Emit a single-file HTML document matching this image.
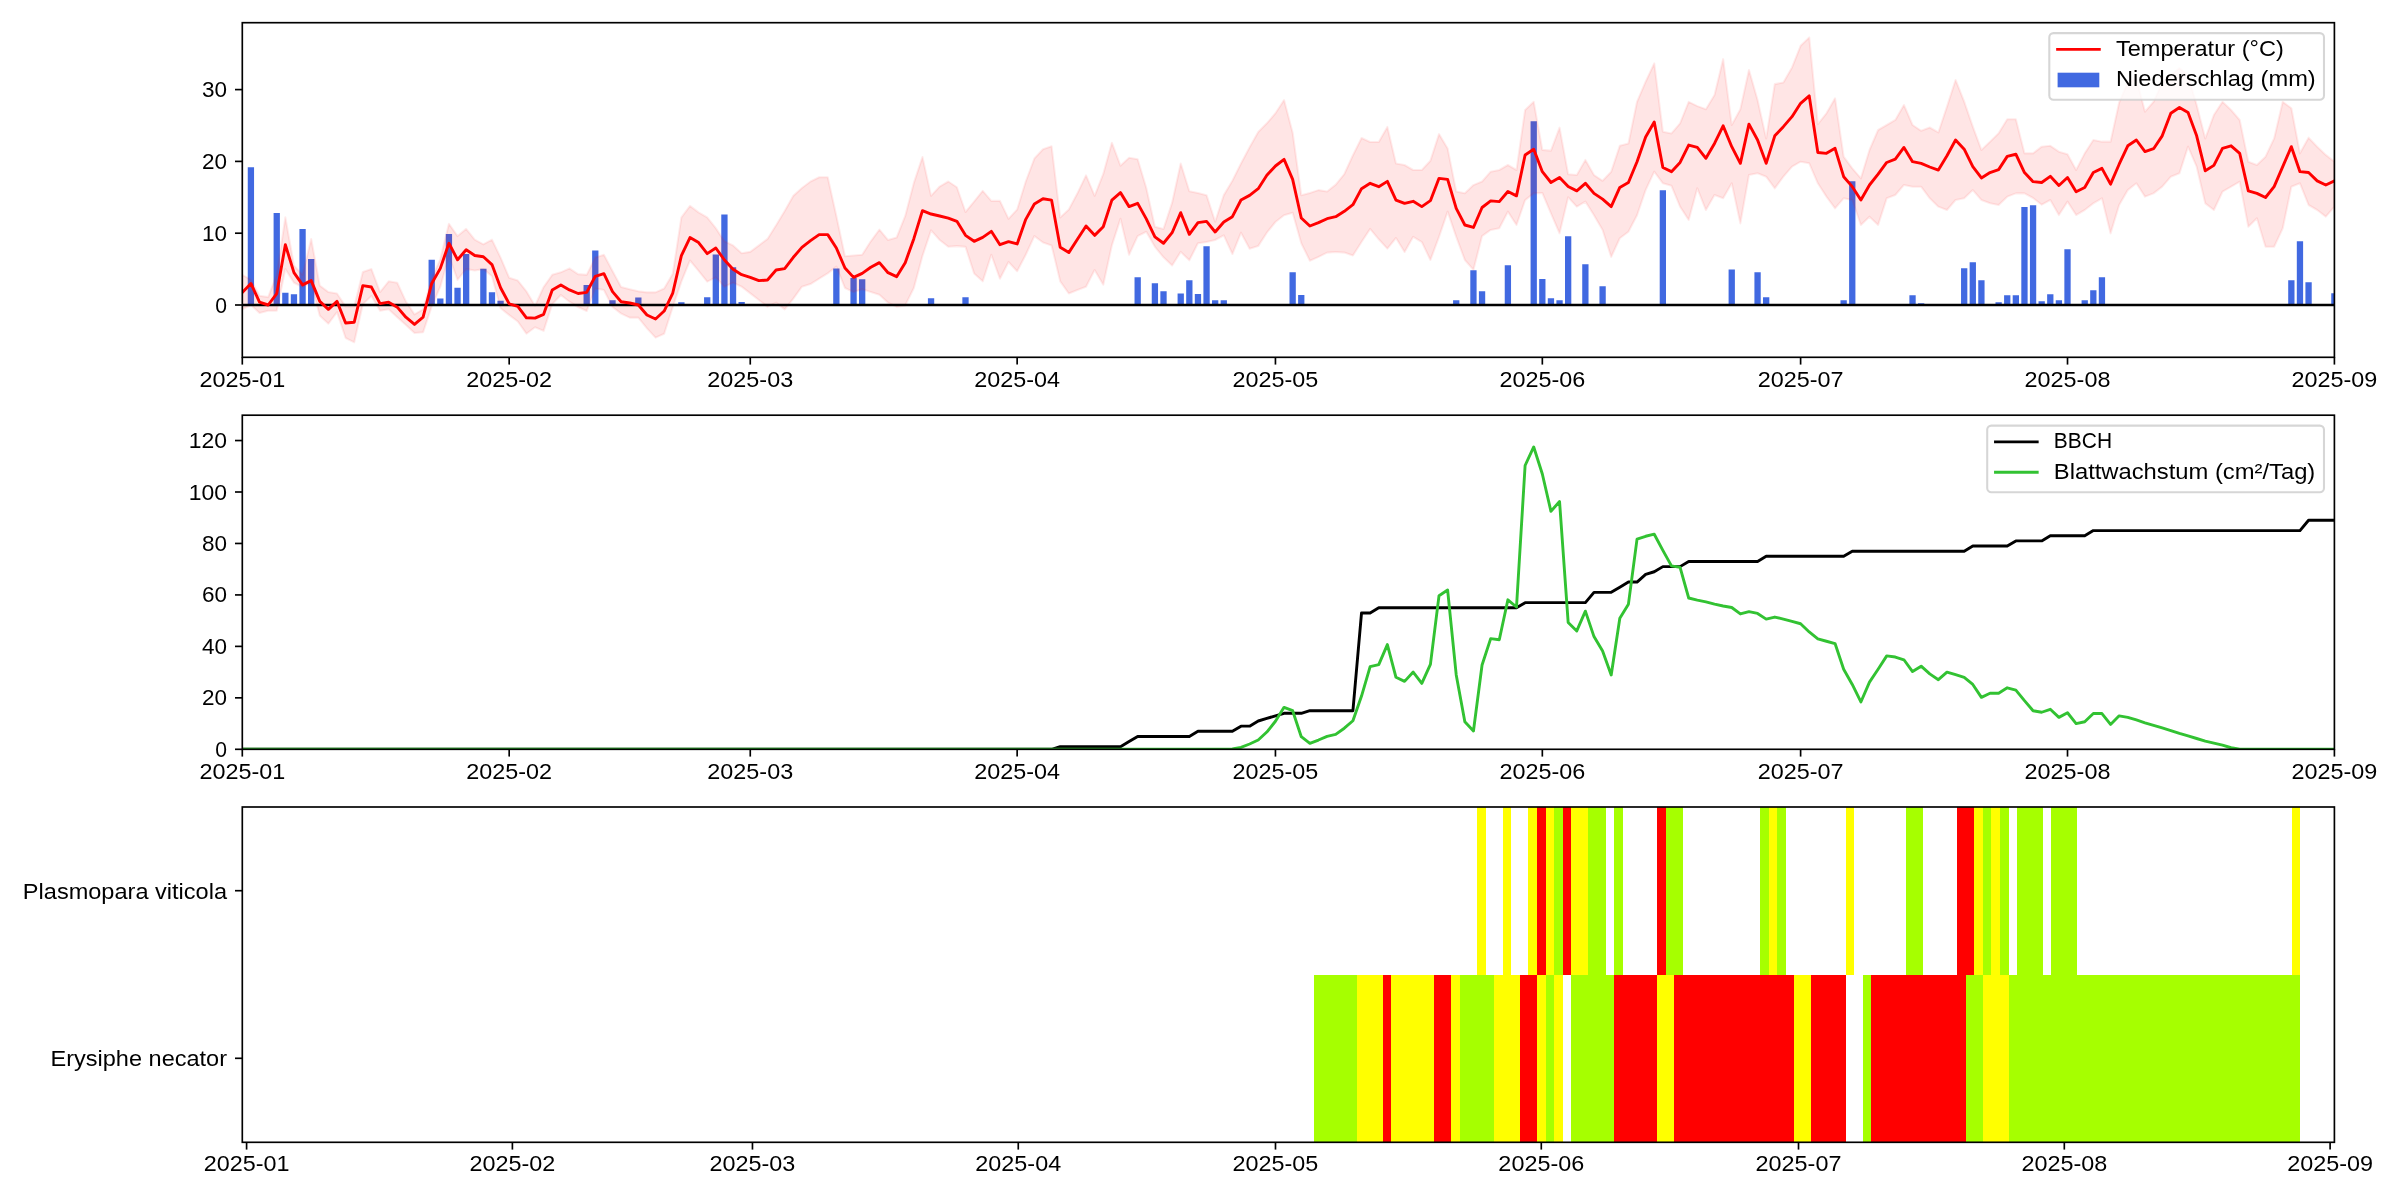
<!DOCTYPE html><html><head><meta charset="utf-8"><style>html,body{margin:0;padding:0;background:#fff;}svg{display:block;will-change:transform}text{font-family:"Liberation Sans", sans-serif;font-size:21.8px;fill:#000}</style></head><body>
<svg width="2400" height="1200" viewBox="0 0 2400 1200">
<rect x="0" y="0" width="2400" height="1200" fill="#fff"/>
<defs>
<clipPath id="c1"><rect x="242.3" y="22.7" width="2092.1" height="334.6"/></clipPath>
<clipPath id="c2"><rect x="242.3" y="415.2" width="2092.1" height="334.1"/></clipPath>
<clipPath id="c3"><rect x="242.3" y="807" width="2092.1" height="335.3"/></clipPath>
</defs>
<g clip-path="url(#c1)">
<path d="M247.76 305H254.06V167.14H247.76ZM273.59 305H279.89V213.1H273.59ZM282.2 305H288.5V292.79H282.2ZM290.81 305H297.11V294.23H290.81ZM299.42 305H305.72V228.89H299.42ZM308.03 305H314.33V259.05H308.03ZM428.56 305H434.86V259.77H428.56ZM437.17 305H443.47V298.54H437.17ZM445.78 305H452.08V233.92H445.78ZM454.39 305H460.69V287.77H454.39ZM463 305H469.3V254.02H463ZM480.22 305H486.52V268.74H480.22ZM488.82 305H495.12V292.22H488.82ZM497.43 305H503.73V300.84H497.43ZM583.53 305H589.83V284.9H583.53ZM592.14 305H598.44V250.43H592.14ZM609.36 305H615.66V300.33H609.36ZM635.19 305H641.49V297.39H635.19ZM678.23 305H684.53V302.34H678.23ZM704.06 305H710.36V297.35H704.06ZM712.67 305H718.97V254.38H712.67ZM721.28 305H727.58V214.53H721.28ZM729.89 305H736.19V267.31H729.89ZM738.5 305H744.8V301.98H738.5ZM833.2 305H839.5V268.38H833.2ZM850.42 305H856.72V278H850.42ZM859.03 305H865.33V279.15H859.03ZM927.91 305H934.21V298.25H927.91ZM962.35 305H968.65V297.32H962.35ZM1134.53 305H1140.83V277.32H1134.53ZM1151.75 305H1158.05V283.32H1151.75ZM1160.36 305H1166.66V291.29H1160.36ZM1177.58 305H1183.88V293.4H1177.58ZM1186.19 305H1192.49V280.23H1186.19ZM1194.8 305H1201.1V294.01H1194.8ZM1203.41 305H1209.71V246.27H1203.41ZM1212.02 305H1218.32V300.19H1212.02ZM1220.63 305H1226.93V300.19H1220.63ZM1289.5 305H1295.8V272.19H1289.5ZM1298.11 305H1304.41V295.02H1298.11ZM1453.08 305H1459.38V300.19H1453.08ZM1470.3 305H1476.6V270.18H1470.3ZM1478.91 305H1485.21V291.21H1478.91ZM1504.74 305H1511.04V265.29H1504.74ZM1530.57 305H1536.87V121.34H1530.57ZM1539.18 305H1545.48V279.01H1539.18ZM1547.79 305H1554.09V298.18H1547.79ZM1556.4 305H1562.7V300.19H1556.4ZM1565.01 305H1571.31V236.14H1565.01ZM1582.23 305H1588.53V264.22H1582.23ZM1599.45 305H1605.75V286.19H1599.45ZM1659.71 305H1666.01V190.34H1659.71ZM1728.59 305H1734.89V269.53H1728.59ZM1754.42 305H1760.72V272.19H1754.42ZM1763.03 305H1769.33V297.17H1763.03ZM1840.51 305H1846.81V300.19H1840.51ZM1849.12 305H1855.42V181.36H1849.12ZM1909.39 305H1915.69V295.24H1909.39ZM1918 305H1924.3V303.2H1918ZM1961.04 305H1967.34V268.31H1961.04ZM1969.65 305H1975.95V262.21H1969.65ZM1978.26 305H1984.56V280.23H1978.26ZM1995.48 305H2001.78V302.2H1995.48ZM2004.09 305H2010.39V295.24H2004.09ZM2012.7 305H2019V295.24H2012.7ZM2021.31 305H2027.61V206.99H2021.31ZM2029.92 305H2036.22V205.34H2029.92ZM2038.53 305H2044.83V301.19H2038.53ZM2047.14 305H2053.44V294.23H2047.14ZM2055.75 305H2062.05V300.19H2055.75ZM2064.36 305H2070.66V249.28H2064.36ZM2081.58 305H2087.88V300.19H2081.58ZM2090.18 305H2096.48V290.21H2090.18ZM2098.79 305H2105.09V277.21H2098.79ZM2288.2 305H2294.5V280.23H2288.2ZM2296.81 305H2303.11V241.31H2296.81ZM2305.42 305H2311.72V282.17H2305.42ZM2331.25 305H2337.55V293.22H2331.25Z" fill="#4169e1"/>
<path d="M242.3 274.84 L250.91 279.87 L259.52 295.67 L268.13 297.1 L276.74 274.84 L285.35 217.4 L293.96 265.51 L302.57 274.84 L311.18 238.94 L319.79 285.61 L328.39 292.08 L337 293.51 L345.61 306.44 L354.22 306.44 L362.83 271.97 L371.44 269.1 L380.05 292.08 L388.66 281.31 L397.27 282.74 L405.88 301.41 L414.49 314.33 L423.1 309.31 L431.71 278.43 L440.32 259.05 L448.93 223.87 L457.54 236.07 L466.15 228.89 L474.76 239.66 L483.37 244.33 L491.97 239.66 L500.58 257.61 L509.19 277.72 L517.8 280.59 L526.41 291.36 L535.02 305.72 L543.63 287.05 L552.24 274.84 L560.85 272.33 L569.46 268.38 L578.07 274.13 L586.68 274.84 L595.29 257.61 L603.9 254.74 L612.51 270.89 L621.12 287.05 L629.73 289.2 L638.34 291.36 L646.94 292.36 L655.55 292.36 L664.16 288.49 L672.77 273.7 L681.38 217.4 L689.99 205.92 L698.6 212.38 L707.21 217.4 L715.82 228.17 L724.43 241.31 L733.04 245.41 L741.65 253.3 L750.26 251.87 L758.87 245.41 L767.48 238.94 L776.09 225.3 L784.7 210.94 L793.31 195.86 L801.92 187.97 L810.52 181.5 L819.13 177.2 L827.74 177.2 L836.35 215.97 L844.96 256.18 L853.57 255.46 L862.18 254.74 L870.79 241.31 L879.4 229.61 L888.01 240.02 L896.62 237.51 L905.23 215.97 L913.84 182.94 L922.45 157.09 L931.06 195.86 L939.67 186.53 L948.28 181.5 L956.89 187.25 L965.5 212.02 L974.1 201.61 L982.71 190.84 L991.32 200.89 L999.93 200.89 L1008.54 218.84 L1017.15 209.51 L1025.76 181.5 L1034.37 158.53 L1042.98 149.19 L1051.59 146.32 L1060.2 217.4 L1068.81 209.51 L1077.42 193.35 L1086.03 175.33 L1094.64 195.86 L1103.25 173.97 L1111.86 142.73 L1120.47 165.71 L1129.07 157.81 L1137.68 159.25 L1146.29 187.97 L1154.9 226.74 L1163.51 228.89 L1172.12 202.69 L1180.73 163.55 L1189.34 191.2 L1197.95 192.99 L1206.56 195.15 L1215.17 221.71 L1223.78 195.15 L1232.39 180.79 L1241 163.55 L1249.61 147.33 L1258.22 131.96 L1266.83 123.35 L1275.44 113.29 L1284.05 100.01 L1292.65 132.68 L1301.26 195.15 L1309.87 192.99 L1318.48 190.12 L1327.09 191.56 L1335.7 184.66 L1344.31 174.04 L1352.92 155.3 L1361.53 137.99 L1370.14 142.01 L1378.75 142.01 L1387.36 126.94 L1395.97 163.55 L1404.58 164.99 L1413.19 170.02 L1421.8 170.02 L1430.41 160.68 L1439.02 134.12 L1447.63 148.48 L1456.23 191.56 L1464.84 193.35 L1473.45 185.09 L1482.06 181.5 L1490.67 171.67 L1499.28 170.02 L1507.89 164.99 L1516.5 170.02 L1525.11 109.99 L1533.72 101.81 L1542.33 149.91 L1550.94 150.63 L1559.55 127.65 L1568.16 174.32 L1576.77 175.04 L1585.38 159.96 L1593.99 175.04 L1602.6 180.79 L1611.2 171.67 L1619.81 145.82 L1628.42 143.45 L1637.03 101.81 L1645.64 81.7 L1654.25 63.32 L1662.86 131.67 L1671.47 133.4 L1680.08 123.35 L1688.69 101.81 L1697.3 106.11 L1705.91 109.2 L1714.52 94.99 L1723.13 59.16 L1731.74 125 L1740.35 109.2 L1748.96 70 L1757.57 100.01 L1766.18 138.42 L1774.78 84.14 L1783.39 82.49 L1792 67.49 L1800.61 45.8 L1809.22 37.47 L1817.83 124.14 L1826.44 113.29 L1835.05 98.36 L1843.66 156.66 L1852.27 168.36 L1860.88 178.34 L1869.49 149.98 L1878.1 130.02 L1886.71 125 L1895.32 119.97 L1903.93 104.97 L1912.54 125 L1921.15 130.81 L1929.76 127.51 L1938.36 132.46 L1946.97 106.69 L1955.58 79.98 L1964.19 101.66 L1972.8 126.65 L1981.41 149.98 L1990.02 141.66 L1998.63 133.33 L2007.24 119.18 L2015.85 119.18 L2024.46 153.36 L2033.07 153.36 L2041.68 146.68 L2050.29 145.82 L2058.9 151.64 L2067.51 154.22 L2076.12 170.02 L2084.73 153.36 L2093.33 140 L2101.94 141.66 L2110.55 141.66 L2119.16 102.52 L2127.77 82.42 L2136.38 78.83 L2144.99 111.64 L2153.6 101.81 L2162.21 82.42 L2170.82 75.24 L2179.43 68.06 L2188.04 75.24 L2196.65 104.97 L2205.26 138.42 L2213.87 115.02 L2222.48 101.81 L2231.09 109.99 L2239.7 119.97 L2248.31 161.69 L2256.91 164.99 L2265.52 156.66 L2274.13 138.42 L2282.74 101.81 L2291.35 108.27 L2299.96 153.36 L2308.57 137.71 L2317.18 146.68 L2325.79 154.94 L2334.4 161.69 L2334.4 206.63 L2325.79 216.69 L2317.18 210.01 L2308.57 204.98 L2299.96 183.3 L2291.35 186.67 L2282.74 228.32 L2274.13 246.7 L2265.52 246.7 L2256.91 218.34 L2248.31 226.74 L2239.7 181.65 L2231.09 186.67 L2222.48 191.7 L2213.87 210.01 L2205.26 203.33 L2196.65 166.64 L2188.04 146.68 L2179.43 173.32 L2170.82 176.69 L2162.21 186.67 L2153.6 193.35 L2144.99 196.65 L2136.38 183.3 L2127.77 190.12 L2119.16 204.98 L2110.55 233.34 L2101.94 198.31 L2093.33 203.33 L2084.73 210.01 L2076.12 215.03 L2067.51 201.68 L2058.9 215.03 L2050.29 200.03 L2041.68 204.7 L2033.07 198.02 L2024.46 193.35 L2015.85 193.35 L2007.24 196.65 L1998.63 204.98 L1990.02 203.33 L1981.41 200.03 L1972.8 190.12 L1964.19 198.31 L1955.58 200.03 L1946.97 210.01 L1938.36 206.63 L1929.76 198.31 L1921.15 186.67 L1912.54 186.71 L1903.93 185.02 L1895.32 195 L1886.71 198.31 L1878.1 225.01 L1869.49 216.69 L1860.88 225.01 L1852.27 200.03 L1843.66 198.31 L1835.05 208.36 L1826.44 196.65 L1817.83 183.3 L1809.22 163.34 L1800.61 161.69 L1792 166.64 L1783.39 176.69 L1774.78 188.32 L1766.18 176.69 L1757.57 173.32 L1748.96 175.04 L1740.35 223.36 L1731.74 183.3 L1723.13 198.31 L1714.52 195 L1705.91 210.01 L1697.3 188.32 L1688.69 219.99 L1680.08 206.63 L1671.47 185.81 L1662.86 183.3 L1654.25 171.67 L1645.64 190.12 L1637.03 215.25 L1628.42 231.76 L1619.81 238.23 L1611.2 256.89 L1602.6 229.97 L1593.99 215.25 L1585.38 201.61 L1576.77 206.63 L1568.16 197.3 L1559.55 233.34 L1550.94 213.31 L1542.33 192.99 L1533.72 193.35 L1525.11 200.17 L1516.5 225.01 L1507.89 211.66 L1499.28 228.17 L1490.67 229.97 L1482.06 236.07 L1473.45 269.82 L1464.84 259.98 L1456.23 236.79 L1447.63 211.66 L1439.02 236.79 L1430.41 259.98 L1421.8 242.03 L1413.19 236.79 L1404.58 252.01 L1395.97 238.01 L1387.36 248.64 L1378.75 239.3 L1370.14 228.89 L1361.53 242.03 L1352.92 255.46 L1344.31 252.59 L1335.7 252.01 L1327.09 252.59 L1318.48 256.89 L1309.87 260.7 L1301.26 243.25 L1292.65 212.67 L1284.05 215.25 L1275.44 222 L1266.83 232.7 L1258.22 246.12 L1249.61 248.64 L1241 232.7 L1232.39 254.02 L1223.78 235.35 L1215.17 240.02 L1206.56 242.03 L1197.95 243.25 L1189.34 260.34 L1180.73 251.87 L1172.12 265.51 L1163.51 257.32 L1154.9 246.84 L1146.29 231.76 L1137.68 236.07 L1129.07 254.74 L1120.47 218.84 L1111.86 245.41 L1103.25 284.68 L1094.64 270.03 L1086.03 286.69 L1077.42 289.92 L1068.81 293.51 L1060.2 281.31 L1051.59 245.41 L1042.98 242.53 L1034.37 236.07 L1025.76 254.74 L1017.15 271.25 L1008.54 261.92 L999.93 278.65 L991.32 254.74 L982.71 281.31 L974.1 273.41 L965.5 246.84 L956.89 246.12 L948.28 246.7 L939.67 240.02 L931.06 230.33 L922.45 255.96 L913.84 287.98 L905.23 305.36 L896.62 306.65 L888.01 302.63 L879.4 294.66 L870.79 292 L862.18 289.35 L853.57 292.08 L844.96 287.98 L836.35 266.66 L827.74 273.34 L819.13 278.65 L810.52 284.03 L801.92 286.69 L793.31 298.68 L784.7 309.31 L776.09 302.63 L767.48 306.65 L758.87 299.97 L750.26 293.37 L741.65 286.69 L733.04 282.67 L724.43 286.69 L715.82 277.36 L707.21 281.67 L698.6 270.89 L689.99 260.48 L681.38 281.67 L672.77 307.01 L664.16 333.72 L655.55 337.67 L646.94 328.33 L638.34 317.64 L629.73 317.64 L621.12 313.62 L612.51 307.01 L603.9 289.92 L595.29 288.49 L586.68 311.03 L578.07 307.01 L569.46 301.7 L560.85 294.95 L552.24 304.28 L543.63 330.85 L535.02 327.26 L526.41 333.72 L517.8 321.51 L509.19 315.05 L500.58 308.3 L491.97 276.28 L483.37 269.1 L474.76 270.54 L466.15 269.1 L457.54 279.87 L448.93 256.18 L440.32 286.69 L431.71 306.44 L423.1 332.28 L414.49 333 L405.88 325.1 L397.27 317.21 L388.66 309.31 L380.05 310.74 L371.44 296.02 L362.83 304.28 L354.22 342.34 L345.61 338.03 L337 312.18 L328.39 323.67 L319.79 315.77 L311.18 282.74 L302.57 287.05 L293.96 282.74 L285.35 269.1 L276.74 310.74 L268.13 310.74 L259.52 312.9 L250.91 305 L242.3 309.31 Z" fill="#ff0000" fill-opacity="0.1" stroke="#ff0000" stroke-opacity="0.08" stroke-width="2.08" stroke-linejoin="round"/>
<line x1="242.3" y1="305" x2="2334.4" y2="305" stroke="#000" stroke-width="2.5"/>
<polyline points="242.3,292.51 250.91,283.46 259.52,302.13 268.13,305 276.74,293.51 285.35,244.69 293.96,272.69 302.57,284.9 311.18,280.59 319.79,301.41 328.39,309.31 337,301.41 345.61,322.95 354.22,322.23 362.83,285.61 371.44,287.05 380.05,303.56 388.66,302.13 397.27,307.15 405.88,317.21 414.49,324.39 423.1,317.21 431.71,283.46 440.32,268.38 448.93,243.25 457.54,259.77 466.15,249.71 474.76,255.46 483.37,256.75 491.97,264.58 500.58,287.77 509.19,303.92 517.8,306.44 526.41,317.78 535.02,318.14 543.63,314.33 552.24,289.92 560.85,284.9 569.46,289.92 578.07,293.51 586.68,292.36 595.29,276.28 603.9,273.7 612.51,291.65 621.12,301.7 629.73,302.99 638.34,305 646.94,315.05 655.55,319 664.16,311.03 672.77,293.01 681.38,255.67 689.99,237.51 698.6,242.53 707.21,253.66 715.82,247.99 724.43,259.98 733.04,269.32 741.65,274.7 750.26,277.36 758.87,280.66 767.48,280.01 776.09,270.03 784.7,268.67 793.31,257.32 801.92,247.34 810.52,240.67 819.13,234.64 827.74,234.64 836.35,247.99 844.96,268.02 853.57,277.36 862.18,273.34 870.79,267.31 879.4,262.64 888.01,272.69 896.62,276.64 905.23,262.64 913.84,238.66 922.45,210.65 931.06,214.03 939.67,215.97 948.28,218.12 956.89,221.35 965.5,235.35 974.1,241.31 982.71,237.36 991.32,231.33 999.93,244.69 1008.54,241.6 1017.15,243.97 1025.76,219.34 1034.37,203.98 1042.98,198.74 1051.59,200.17 1060.2,247.34 1068.81,252.59 1077.42,239.3 1086.03,226.02 1094.64,235.35 1103.25,226.74 1111.86,200.17 1120.47,192.63 1129.07,206.63 1137.68,203.33 1146.29,218.84 1154.9,236.79 1163.51,243.25 1172.12,232.7 1180.73,212.67 1189.34,234.35 1197.95,222.65 1206.56,221.35 1215.17,231.98 1223.78,222 1232.39,216.69 1241,200.03 1249.61,195.36 1258.22,188.68 1266.83,175.33 1275.44,166 1284.05,159.32 1292.65,179.35 1301.26,217.98 1309.87,226.02 1318.48,222.65 1327.09,218.7 1335.7,216.69 1344.31,211.3 1352.92,204.7 1361.53,188.68 1370.14,183.3 1378.75,186.67 1387.36,181.36 1395.97,200.03 1404.58,203.33 1413.19,201.32 1421.8,206.63 1430.41,200.67 1439.02,178.34 1447.63,179.35 1456.23,208.36 1464.84,225.01 1473.45,227.46 1482.06,207.5 1490.67,200.89 1499.28,201.61 1507.89,191.56 1516.5,195.86 1525.11,154.94 1533.72,149.19 1542.33,171.67 1550.94,182.51 1559.55,177.48 1568.16,186.53 1576.77,190.84 1585.38,183.3 1593.99,193.35 1602.6,199.17 1611.2,206.63 1619.81,187.46 1628.42,182.51 1637.03,161.69 1645.64,136.99 1654.25,121.91 1662.86,167.5 1671.47,171.67 1680.08,162.48 1688.69,145.03 1697.3,147.47 1705.91,158.31 1714.52,143.45 1723.13,125.86 1731.74,146.68 1740.35,163.34 1748.96,124.14 1757.57,140 1766.18,163.34 1774.78,135.84 1783.39,126.65 1792,116.67 1800.61,103.31 1809.22,95.85 1817.83,152.5 1826.44,153.36 1835.05,148.33 1843.66,176.69 1852.27,186.67 1860.88,200.03 1869.49,185.02 1878.1,174.18 1886.71,162.48 1895.32,159.17 1903.93,147.47 1912.54,161.69 1921.15,163.34 1929.76,167 1938.36,170.02 1946.97,155.8 1955.58,140 1964.19,149.19 1972.8,166.64 1981.41,177.99 1990.02,172.53 1998.63,169.66 2007.24,156.37 2015.85,154.22 2024.46,172.53 2033.07,181.65 2041.68,182.51 2050.29,176.33 2058.9,185.52 2067.51,177.48 2076.12,191.7 2084.73,187.54 2093.33,172.53 2101.94,168.36 2110.55,184.16 2119.16,164.2 2127.77,145.82 2136.38,140 2144.99,151.64 2153.6,148.69 2162.21,135.84 2170.82,113.29 2179.43,107.55 2188.04,112.58 2196.65,135.84 2205.26,170.81 2213.87,165.35 2222.48,148.33 2231.09,145.82 2239.7,153.36 2248.31,190.84 2256.91,193.35 2265.52,197.52 2274.13,186.67 2282.74,166.64 2291.35,146.68 2299.96,171.67 2308.57,172.53 2317.18,180.86 2325.79,185.02 2334.4,180.86" fill="none" stroke="#ff0000" stroke-width="2.9" stroke-linejoin="round" stroke-linecap="square"/>
</g>
<rect x="242.3" y="22.7" width="2092.1" height="334.6" fill="none" stroke="#000" stroke-width="1.67" stroke-linejoin="miter"/>
<line x1="242.3" y1="357.3" x2="242.3" y2="364.59" stroke="#000" stroke-width="1.67"/>
<text x="242.3" y="387" text-anchor="middle" textLength="85.8" lengthAdjust="spacingAndGlyphs">2025-01</text>
<line x1="509.19" y1="357.3" x2="509.19" y2="364.59" stroke="#000" stroke-width="1.67"/>
<text x="509.19" y="387" text-anchor="middle" textLength="85.8" lengthAdjust="spacingAndGlyphs">2025-02</text>
<line x1="750.26" y1="357.3" x2="750.26" y2="364.59" stroke="#000" stroke-width="1.67"/>
<text x="750.26" y="387" text-anchor="middle" textLength="85.8" lengthAdjust="spacingAndGlyphs">2025-03</text>
<line x1="1017.15" y1="357.3" x2="1017.15" y2="364.59" stroke="#000" stroke-width="1.67"/>
<text x="1017.15" y="387" text-anchor="middle" textLength="85.8" lengthAdjust="spacingAndGlyphs">2025-04</text>
<line x1="1275.44" y1="357.3" x2="1275.44" y2="364.59" stroke="#000" stroke-width="1.67"/>
<text x="1275.44" y="387" text-anchor="middle" textLength="85.8" lengthAdjust="spacingAndGlyphs">2025-05</text>
<line x1="1542.33" y1="357.3" x2="1542.33" y2="364.59" stroke="#000" stroke-width="1.67"/>
<text x="1542.33" y="387" text-anchor="middle" textLength="85.8" lengthAdjust="spacingAndGlyphs">2025-06</text>
<line x1="1800.61" y1="357.3" x2="1800.61" y2="364.59" stroke="#000" stroke-width="1.67"/>
<text x="1800.61" y="387" text-anchor="middle" textLength="85.8" lengthAdjust="spacingAndGlyphs">2025-07</text>
<line x1="2067.51" y1="357.3" x2="2067.51" y2="364.59" stroke="#000" stroke-width="1.67"/>
<text x="2067.51" y="387" text-anchor="middle" textLength="85.8" lengthAdjust="spacingAndGlyphs">2025-08</text>
<line x1="2334.4" y1="357.3" x2="2334.4" y2="364.59" stroke="#000" stroke-width="1.67"/>
<text x="2334.4" y="387" text-anchor="middle" textLength="85.8" lengthAdjust="spacingAndGlyphs">2025-09</text>
<line x1="235.01" y1="305" x2="242.3" y2="305" stroke="#000" stroke-width="1.67"/>
<text x="227.01" y="312.5" text-anchor="end" textLength="11.75" lengthAdjust="spacingAndGlyphs">0</text>
<line x1="235.01" y1="233.2" x2="242.3" y2="233.2" stroke="#000" stroke-width="1.67"/>
<text x="227.01" y="240.7" text-anchor="end" textLength="25" lengthAdjust="spacingAndGlyphs">10</text>
<line x1="235.01" y1="161.4" x2="242.3" y2="161.4" stroke="#000" stroke-width="1.67"/>
<text x="227.01" y="168.9" text-anchor="end" textLength="25" lengthAdjust="spacingAndGlyphs">20</text>
<line x1="235.01" y1="89.6" x2="242.3" y2="89.6" stroke="#000" stroke-width="1.67"/>
<text x="227.01" y="97.1" text-anchor="end" textLength="25" lengthAdjust="spacingAndGlyphs">30</text>
<rect x="2049.3" y="33.1" width="274.7" height="66.6" rx="4.2" ry="4.2" fill="#fff" fill-opacity="0.8" stroke="#cccccc" stroke-opacity="0.8" stroke-width="2.08"/>
<line x1="2057.6" y1="49.4" x2="2099.3" y2="49.4" stroke="#ff0000" stroke-width="2.9" stroke-linecap="square"/>
<rect x="2057.6" y="72.7" width="41.7" height="14.6" fill="#4169e1"/>
<text x="2116" y="55.7" text-anchor="start" textLength="167.75" lengthAdjust="spacingAndGlyphs">Temperatur (°C)</text>
<text x="2116" y="86" text-anchor="start" textLength="199.75" lengthAdjust="spacingAndGlyphs">Niederschlag (mm)</text>
<g clip-path="url(#c2)">
<polyline points="242.3,749.3 250.91,749.3 259.52,749.3 268.13,749.3 276.74,749.3 285.35,749.3 293.96,749.3 302.57,749.3 311.18,749.3 319.79,749.3 328.39,749.3 337,749.3 345.61,749.3 354.22,749.3 362.83,749.3 371.44,749.3 380.05,749.3 388.66,749.3 397.27,749.3 405.88,749.3 414.49,749.3 423.1,749.3 431.71,749.3 440.32,749.3 448.93,749.3 457.54,749.3 466.15,749.3 474.76,749.3 483.37,749.3 491.97,749.3 500.58,749.3 509.19,749.3 517.8,749.3 526.41,749.3 535.02,749.3 543.63,749.3 552.24,749.3 560.85,749.3 569.46,749.3 578.07,749.3 586.68,749.3 595.29,749.3 603.9,749.3 612.51,749.3 621.12,749.3 629.73,749.3 638.34,749.3 646.94,749.3 655.55,749.3 664.16,749.3 672.77,749.3 681.38,749.3 689.99,749.3 698.6,749.3 707.21,749.3 715.82,749.3 724.43,749.3 733.04,749.3 741.65,749.3 750.26,749.3 758.87,749.3 767.48,749.3 776.09,749.3 784.7,749.3 793.31,749.3 801.92,749.3 810.52,749.3 819.13,749.3 827.74,749.3 836.35,749.3 844.96,749.3 853.57,749.3 862.18,749.3 870.79,749.3 879.4,749.3 888.01,749.3 896.62,749.3 905.23,749.3 913.84,749.3 922.45,749.3 931.06,749.3 939.67,749.3 948.28,749.3 956.89,749.3 965.5,749.3 974.1,749.3 982.71,749.3 991.32,749.3 999.93,749.3 1008.54,749.3 1017.15,749.3 1025.76,749.3 1034.37,749.3 1042.98,749.3 1051.59,749.3 1060.2,746.73 1068.81,746.73 1077.42,746.73 1086.03,746.73 1094.64,746.73 1103.25,746.73 1111.86,746.73 1120.47,746.73 1129.07,741.58 1137.68,736.43 1146.29,736.43 1154.9,736.43 1163.51,736.43 1172.12,736.43 1180.73,736.43 1189.34,736.43 1197.95,731.29 1206.56,731.29 1215.17,731.29 1223.78,731.29 1232.39,731.29 1241,726.14 1249.61,726.14 1258.22,721 1266.83,718.42 1275.44,715.85 1284.05,713.28 1292.65,713.28 1301.26,713.28 1309.87,710.7 1318.48,710.7 1327.09,710.7 1335.7,710.7 1344.31,710.7 1352.92,710.7 1361.53,612.93 1370.14,612.93 1378.75,607.78 1387.36,607.78 1395.97,607.78 1404.58,607.78 1413.19,607.78 1421.8,607.78 1430.41,607.78 1439.02,607.78 1447.63,607.78 1456.23,607.78 1464.84,607.78 1473.45,607.78 1482.06,607.78 1490.67,607.78 1499.28,607.78 1507.89,607.78 1516.5,607.78 1525.11,602.64 1533.72,602.64 1542.33,602.64 1550.94,602.64 1559.55,602.64 1568.16,602.64 1576.77,602.64 1585.38,602.64 1593.99,592.35 1602.6,592.35 1611.2,592.35 1619.81,587.2 1628.42,582.05 1637.03,582.05 1645.64,574.34 1654.25,571.76 1662.86,566.62 1671.47,566.62 1680.08,566.62 1688.69,561.47 1697.3,561.47 1705.91,561.47 1714.52,561.47 1723.13,561.47 1731.74,561.47 1740.35,561.47 1748.96,561.47 1757.57,561.47 1766.18,556.32 1774.78,556.32 1783.39,556.32 1792,556.32 1800.61,556.32 1809.22,556.32 1817.83,556.32 1826.44,556.32 1835.05,556.32 1843.66,556.32 1852.27,551.18 1860.88,551.18 1869.49,551.18 1878.1,551.18 1886.71,551.18 1895.32,551.18 1903.93,551.18 1912.54,551.18 1921.15,551.18 1929.76,551.18 1938.36,551.18 1946.97,551.18 1955.58,551.18 1964.19,551.18 1972.8,546.03 1981.41,546.03 1990.02,546.03 1998.63,546.03 2007.24,546.03 2015.85,540.89 2024.46,540.89 2033.07,540.89 2041.68,540.89 2050.29,535.74 2058.9,535.74 2067.51,535.74 2076.12,535.74 2084.73,535.74 2093.33,530.6 2101.94,530.6 2110.55,530.6 2119.16,530.6 2127.77,530.6 2136.38,530.6 2144.99,530.6 2153.6,530.6 2162.21,530.6 2170.82,530.6 2179.43,530.6 2188.04,530.6 2196.65,530.6 2205.26,530.6 2213.87,530.6 2222.48,530.6 2231.09,530.6 2239.7,530.6 2248.31,530.6 2256.91,530.6 2265.52,530.6 2274.13,530.6 2282.74,530.6 2291.35,530.6 2299.96,530.6 2308.57,520.3 2317.18,520.3 2325.79,520.3 2334.4,520.3" fill="none" stroke="#000" stroke-width="2.9" stroke-linejoin="round" stroke-linecap="square"/>
<polyline points="242.3,749.3 250.91,749.3 259.52,749.3 268.13,749.3 276.74,749.3 285.35,749.3 293.96,749.3 302.57,749.3 311.18,749.3 319.79,749.3 328.39,749.3 337,749.3 345.61,749.3 354.22,749.3 362.83,749.3 371.44,749.3 380.05,749.3 388.66,749.3 397.27,749.3 405.88,749.3 414.49,749.3 423.1,749.3 431.71,749.3 440.32,749.3 448.93,749.3 457.54,749.3 466.15,749.3 474.76,749.3 483.37,749.3 491.97,749.3 500.58,749.3 509.19,749.3 517.8,749.3 526.41,749.3 535.02,749.3 543.63,749.3 552.24,749.3 560.85,749.3 569.46,749.3 578.07,749.3 586.68,749.3 595.29,749.3 603.9,749.3 612.51,749.3 621.12,749.3 629.73,749.3 638.34,749.3 646.94,749.3 655.55,749.3 664.16,749.3 672.77,749.3 681.38,749.3 689.99,749.3 698.6,749.3 707.21,749.3 715.82,749.3 724.43,749.3 733.04,749.3 741.65,749.3 750.26,749.3 758.87,749.3 767.48,749.3 776.09,749.3 784.7,749.3 793.31,749.3 801.92,749.3 810.52,749.3 819.13,749.3 827.74,749.3 836.35,749.3 844.96,749.3 853.57,749.3 862.18,749.3 870.79,749.3 879.4,749.3 888.01,749.3 896.62,749.3 905.23,749.3 913.84,749.3 922.45,749.3 931.06,749.3 939.67,749.3 948.28,749.3 956.89,749.3 965.5,749.3 974.1,749.3 982.71,749.3 991.32,749.3 999.93,749.3 1008.54,749.3 1017.15,749.3 1025.76,749.3 1034.37,749.3 1042.98,749.3 1051.59,749.3 1060.2,749.3 1068.81,749.3 1077.42,749.3 1086.03,749.3 1094.64,749.3 1103.25,749.3 1111.86,749.3 1120.47,749.3 1129.07,749.3 1137.68,749.3 1146.29,749.3 1154.9,749.3 1163.51,749.3 1172.12,749.3 1180.73,749.3 1189.34,749.3 1197.95,749.3 1206.56,749.3 1215.17,749.3 1223.78,749.3 1232.39,749.04 1241,747.34 1249.61,744 1258.22,740.04 1266.83,732.06 1275.44,721.25 1284.05,707.36 1292.65,710.7 1301.26,736.69 1309.87,743.38 1318.48,740.04 1327.09,736.33 1335.7,734.38 1344.31,728.2 1352.92,720.74 1361.53,696.04 1370.14,666.71 1378.75,664.65 1387.36,644.58 1395.97,677.26 1404.58,681.37 1413.19,672.11 1421.8,683.43 1430.41,664.39 1439.02,595.69 1447.63,590.03 1456.23,674.94 1464.84,721.77 1473.45,731.03 1482.06,665.03 1490.67,638.66 1499.28,639.69 1507.89,599.81 1516.5,607.01 1525.11,465.5 1533.72,446.97 1542.33,473.99 1550.94,511.3 1559.55,501.52 1568.16,622.45 1576.77,630.94 1585.38,611.13 1593.99,636.6 1602.6,651.01 1611.2,674.94 1619.81,618.33 1628.42,604.18 1637.03,539.09 1645.64,536.26 1654.25,534.2 1662.86,550.41 1671.47,565.85 1680.08,567.39 1688.69,598.01 1697.3,600.07 1705.91,601.87 1714.52,604.18 1723.13,605.98 1731.74,607.53 1740.35,613.96 1748.96,611.64 1757.57,613.45 1766.18,619.11 1774.78,617.05 1783.39,619.11 1792,621.42 1800.61,623.74 1809.22,631.97 1817.83,638.92 1826.44,641.23 1835.05,643.55 1843.66,669.28 1852.27,684.46 1860.88,701.96 1869.49,682.14 1878.1,669.28 1886.71,655.9 1895.32,657.06 1903.93,659.76 1912.54,671.6 1921.15,666.19 1929.76,673.91 1938.36,679.7 1946.97,672.11 1955.58,674.68 1964.19,677.36 1972.8,684.46 1981.41,697.33 1990.02,693.21 1998.63,693.21 2007.24,687.81 2015.85,690.12 2024.46,700.67 2033.07,710.7 2041.68,712.25 2050.29,709.29 2058.9,717.39 2067.51,712.76 2076.12,723.57 2084.73,721.77 2093.33,713.54 2101.94,713.54 2110.55,724.47 2119.16,715.85 2127.77,717.39 2136.38,719.97 2144.99,722.8 2153.6,725.37 2162.21,727.94 2170.82,730.52 2179.43,733.35 2188.04,735.92 2196.65,738.49 2205.26,741.07 2213.87,743.12 2222.48,745.18 2231.09,747.76 2239.7,749.3 2248.31,749.3 2256.91,749.3 2265.52,749.3 2274.13,749.3 2282.74,749.3 2291.35,749.3 2299.96,749.3 2308.57,749.3 2317.18,749.3 2325.79,749.3 2334.4,749.3" fill="none" stroke="#32c232" stroke-width="2.9" stroke-linejoin="round" stroke-linecap="square"/>
</g>
<rect x="242.3" y="415.2" width="2092.1" height="334.1" fill="none" stroke="#000" stroke-width="1.67" stroke-linejoin="miter"/>
<line x1="242.3" y1="749.3" x2="242.3" y2="756.59" stroke="#000" stroke-width="1.67"/>
<text x="242.3" y="779" text-anchor="middle" textLength="85.8" lengthAdjust="spacingAndGlyphs">2025-01</text>
<line x1="509.19" y1="749.3" x2="509.19" y2="756.59" stroke="#000" stroke-width="1.67"/>
<text x="509.19" y="779" text-anchor="middle" textLength="85.8" lengthAdjust="spacingAndGlyphs">2025-02</text>
<line x1="750.26" y1="749.3" x2="750.26" y2="756.59" stroke="#000" stroke-width="1.67"/>
<text x="750.26" y="779" text-anchor="middle" textLength="85.8" lengthAdjust="spacingAndGlyphs">2025-03</text>
<line x1="1017.15" y1="749.3" x2="1017.15" y2="756.59" stroke="#000" stroke-width="1.67"/>
<text x="1017.15" y="779" text-anchor="middle" textLength="85.8" lengthAdjust="spacingAndGlyphs">2025-04</text>
<line x1="1275.44" y1="749.3" x2="1275.44" y2="756.59" stroke="#000" stroke-width="1.67"/>
<text x="1275.44" y="779" text-anchor="middle" textLength="85.8" lengthAdjust="spacingAndGlyphs">2025-05</text>
<line x1="1542.33" y1="749.3" x2="1542.33" y2="756.59" stroke="#000" stroke-width="1.67"/>
<text x="1542.33" y="779" text-anchor="middle" textLength="85.8" lengthAdjust="spacingAndGlyphs">2025-06</text>
<line x1="1800.61" y1="749.3" x2="1800.61" y2="756.59" stroke="#000" stroke-width="1.67"/>
<text x="1800.61" y="779" text-anchor="middle" textLength="85.8" lengthAdjust="spacingAndGlyphs">2025-07</text>
<line x1="2067.51" y1="749.3" x2="2067.51" y2="756.59" stroke="#000" stroke-width="1.67"/>
<text x="2067.51" y="779" text-anchor="middle" textLength="85.8" lengthAdjust="spacingAndGlyphs">2025-08</text>
<line x1="2334.4" y1="749.3" x2="2334.4" y2="756.59" stroke="#000" stroke-width="1.67"/>
<text x="2334.4" y="779" text-anchor="middle" textLength="85.8" lengthAdjust="spacingAndGlyphs">2025-09</text>
<line x1="235.01" y1="749.3" x2="242.3" y2="749.3" stroke="#000" stroke-width="1.67"/>
<text x="227.01" y="756.8" text-anchor="end" textLength="11.75" lengthAdjust="spacingAndGlyphs">0</text>
<line x1="235.01" y1="697.84" x2="242.3" y2="697.84" stroke="#000" stroke-width="1.67"/>
<text x="227.01" y="705.34" text-anchor="end" textLength="25" lengthAdjust="spacingAndGlyphs">20</text>
<line x1="235.01" y1="646.38" x2="242.3" y2="646.38" stroke="#000" stroke-width="1.67"/>
<text x="227.01" y="653.88" text-anchor="end" textLength="25" lengthAdjust="spacingAndGlyphs">40</text>
<line x1="235.01" y1="594.92" x2="242.3" y2="594.92" stroke="#000" stroke-width="1.67"/>
<text x="227.01" y="602.42" text-anchor="end" textLength="25" lengthAdjust="spacingAndGlyphs">60</text>
<line x1="235.01" y1="543.46" x2="242.3" y2="543.46" stroke="#000" stroke-width="1.67"/>
<text x="227.01" y="550.96" text-anchor="end" textLength="25" lengthAdjust="spacingAndGlyphs">80</text>
<line x1="235.01" y1="492" x2="242.3" y2="492" stroke="#000" stroke-width="1.67"/>
<text x="227.01" y="499.5" text-anchor="end" textLength="38.25" lengthAdjust="spacingAndGlyphs">100</text>
<line x1="235.01" y1="440.54" x2="242.3" y2="440.54" stroke="#000" stroke-width="1.67"/>
<text x="227.01" y="448.04" text-anchor="end" textLength="38.25" lengthAdjust="spacingAndGlyphs">120</text>
<rect x="1987.2" y="425.6" width="336.8" height="66.6" rx="4.2" ry="4.2" fill="#fff" fill-opacity="0.8" stroke="#cccccc" stroke-opacity="0.8" stroke-width="2.08"/>
<line x1="1995.5" y1="441.9" x2="2037.2" y2="441.9" stroke="#000" stroke-width="2.9" stroke-linecap="square"/>
<line x1="1995.5" y1="472.3" x2="2037.2" y2="472.3" stroke="#32c232" stroke-width="2.9" stroke-linecap="square"/>
<text x="2053.8" y="448.2" text-anchor="start" textLength="58.25" lengthAdjust="spacingAndGlyphs">BBCH</text>
<text x="2053.8" y="479.2" text-anchor="start" textLength="261.5" lengthAdjust="spacingAndGlyphs">Blattwachstum (cm²/Tag)</text>
<g clip-path="url(#c3)" shape-rendering="crispEdges">
<rect x="1476.98" y="807" width="8.57" height="167.65" fill="#ffff00"/>
<rect x="1502.7" y="807" width="8.57" height="167.65" fill="#ffff00"/>
<rect x="1528.43" y="807" width="8.57" height="167.65" fill="#ffff00"/>
<rect x="1537" y="807" width="8.57" height="167.65" fill="#ff0000"/>
<rect x="1545.58" y="807" width="8.57" height="167.65" fill="#ffff00"/>
<rect x="1554.15" y="807" width="8.57" height="167.65" fill="#a6ff00"/>
<rect x="1562.72" y="807" width="8.57" height="167.65" fill="#ff0000"/>
<rect x="1571.3" y="807" width="17.15" height="167.65" fill="#ffff00"/>
<rect x="1588.45" y="807" width="17.15" height="167.65" fill="#a6ff00"/>
<rect x="1614.17" y="807" width="8.57" height="167.65" fill="#a6ff00"/>
<rect x="1657.04" y="807" width="8.57" height="167.65" fill="#ff0000"/>
<rect x="1665.61" y="807" width="17.15" height="167.65" fill="#a6ff00"/>
<rect x="1759.93" y="807" width="8.57" height="167.65" fill="#a6ff00"/>
<rect x="1768.5" y="807" width="8.57" height="167.65" fill="#ffff00"/>
<rect x="1777.08" y="807" width="8.57" height="167.65" fill="#a6ff00"/>
<rect x="1845.67" y="807" width="8.57" height="167.65" fill="#ffff00"/>
<rect x="1905.69" y="807" width="17.15" height="167.65" fill="#a6ff00"/>
<rect x="1957.14" y="807" width="17.15" height="167.65" fill="#ff0000"/>
<rect x="1974.28" y="807" width="8.57" height="167.65" fill="#ffff00"/>
<rect x="1982.86" y="807" width="8.57" height="167.65" fill="#a6ff00"/>
<rect x="1991.43" y="807" width="8.57" height="167.65" fill="#ffff00"/>
<rect x="2000.01" y="807" width="8.57" height="167.65" fill="#a6ff00"/>
<rect x="2017.16" y="807" width="25.72" height="167.65" fill="#a6ff00"/>
<rect x="2051.45" y="807" width="25.72" height="167.65" fill="#a6ff00"/>
<rect x="2291.53" y="807" width="8.57" height="167.65" fill="#ffff00"/>
<rect x="1314.07" y="974.65" width="42.87" height="167.65" fill="#a6ff00"/>
<rect x="1356.94" y="974.65" width="25.72" height="167.65" fill="#ffff00"/>
<rect x="1382.67" y="974.65" width="8.57" height="167.65" fill="#ff0000"/>
<rect x="1391.24" y="974.65" width="42.87" height="167.65" fill="#ffff00"/>
<rect x="1434.11" y="974.65" width="17.15" height="167.65" fill="#ff0000"/>
<rect x="1451.26" y="974.65" width="8.57" height="167.65" fill="#ffff00"/>
<rect x="1459.83" y="974.65" width="34.3" height="167.65" fill="#a6ff00"/>
<rect x="1494.13" y="974.65" width="25.72" height="167.65" fill="#ffff00"/>
<rect x="1519.85" y="974.65" width="17.15" height="167.65" fill="#ff0000"/>
<rect x="1537" y="974.65" width="8.57" height="167.65" fill="#ffff00"/>
<rect x="1545.58" y="974.65" width="8.57" height="167.65" fill="#a6ff00"/>
<rect x="1554.15" y="974.65" width="8.57" height="167.65" fill="#ffff00"/>
<rect x="1571.3" y="974.65" width="42.87" height="167.65" fill="#a6ff00"/>
<rect x="1614.17" y="974.65" width="42.87" height="167.65" fill="#ff0000"/>
<rect x="1657.04" y="974.65" width="17.15" height="167.65" fill="#ffff00"/>
<rect x="1674.19" y="974.65" width="120.04" height="167.65" fill="#ff0000"/>
<rect x="1794.23" y="974.65" width="17.15" height="167.65" fill="#ffff00"/>
<rect x="1811.38" y="974.65" width="34.3" height="167.65" fill="#ff0000"/>
<rect x="1862.82" y="974.65" width="8.57" height="167.65" fill="#a6ff00"/>
<rect x="1871.39" y="974.65" width="94.32" height="167.65" fill="#ff0000"/>
<rect x="1965.71" y="974.65" width="17.15" height="167.65" fill="#a6ff00"/>
<rect x="1982.86" y="974.65" width="25.72" height="167.65" fill="#ffff00"/>
<rect x="2008.58" y="974.65" width="291.52" height="167.65" fill="#a6ff00"/>
</g>
<rect x="242.3" y="807" width="2092.1" height="335.3" fill="none" stroke="#000" stroke-width="1.67" stroke-linejoin="miter"/>
<line x1="246.59" y1="1142.3" x2="246.59" y2="1149.59" stroke="#000" stroke-width="1.67"/>
<text x="246.59" y="1171" text-anchor="middle" textLength="85.8" lengthAdjust="spacingAndGlyphs">2025-01</text>
<line x1="512.39" y1="1142.3" x2="512.39" y2="1149.59" stroke="#000" stroke-width="1.67"/>
<text x="512.39" y="1171" text-anchor="middle" textLength="85.8" lengthAdjust="spacingAndGlyphs">2025-02</text>
<line x1="752.46" y1="1142.3" x2="752.46" y2="1149.59" stroke="#000" stroke-width="1.67"/>
<text x="752.46" y="1171" text-anchor="middle" textLength="85.8" lengthAdjust="spacingAndGlyphs">2025-03</text>
<line x1="1018.26" y1="1142.3" x2="1018.26" y2="1149.59" stroke="#000" stroke-width="1.67"/>
<text x="1018.26" y="1171" text-anchor="middle" textLength="85.8" lengthAdjust="spacingAndGlyphs">2025-04</text>
<line x1="1275.49" y1="1142.3" x2="1275.49" y2="1149.59" stroke="#000" stroke-width="1.67"/>
<text x="1275.49" y="1171" text-anchor="middle" textLength="85.8" lengthAdjust="spacingAndGlyphs">2025-05</text>
<line x1="1541.29" y1="1142.3" x2="1541.29" y2="1149.59" stroke="#000" stroke-width="1.67"/>
<text x="1541.29" y="1171" text-anchor="middle" textLength="85.8" lengthAdjust="spacingAndGlyphs">2025-06</text>
<line x1="1798.51" y1="1142.3" x2="1798.51" y2="1149.59" stroke="#000" stroke-width="1.67"/>
<text x="1798.51" y="1171" text-anchor="middle" textLength="85.8" lengthAdjust="spacingAndGlyphs">2025-07</text>
<line x1="2064.31" y1="1142.3" x2="2064.31" y2="1149.59" stroke="#000" stroke-width="1.67"/>
<text x="2064.31" y="1171" text-anchor="middle" textLength="85.8" lengthAdjust="spacingAndGlyphs">2025-08</text>
<line x1="2330.11" y1="1142.3" x2="2330.11" y2="1149.59" stroke="#000" stroke-width="1.67"/>
<text x="2330.11" y="1171" text-anchor="middle" textLength="85.8" lengthAdjust="spacingAndGlyphs">2025-09</text>
<line x1="235.01" y1="890.7" x2="242.3" y2="890.7" stroke="#000" stroke-width="1.67"/>
<text x="227.01" y="898.7" text-anchor="end" textLength="204.12" lengthAdjust="spacingAndGlyphs">Plasmopara viticola</text>
<line x1="235.01" y1="1058.3" x2="242.3" y2="1058.3" stroke="#000" stroke-width="1.67"/>
<text x="227.01" y="1066.3" text-anchor="end" textLength="176.5" lengthAdjust="spacingAndGlyphs">Erysiphe necator</text>
</svg></body></html>
